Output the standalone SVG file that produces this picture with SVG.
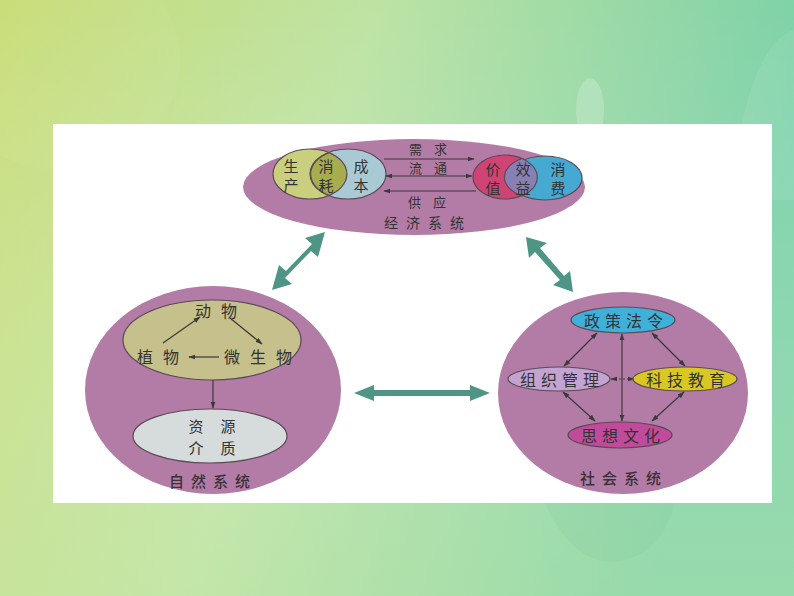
<svg xmlns="http://www.w3.org/2000/svg" width="794" height="596" viewBox="0 0 794 596">
<defs>
<linearGradient id="bg" x1="0" y1="0" x2="1" y2="0.25">
<stop offset="0" stop-color="#c8dc74"/>
<stop offset="0.45" stop-color="#bde3a4"/>
<stop offset="1" stop-color="#78d0a8"/>
</linearGradient>
<linearGradient id="bgb" x1="0" y1="0" x2="0" y2="1">
<stop offset="0" stop-color="#ffffff" stop-opacity="0"/>
<stop offset="1" stop-color="#d0ecb0" stop-opacity="0.35"/>
</linearGradient>
<marker id="ah" viewBox="0 0 10 10" refX="9" refY="5" markerWidth="6" markerHeight="6" orient="auto-start-reverse">
<path d="M0,1.5 L10,5 L0,8.5 Z" fill="#3a3a3a"/>
</marker>
<style>
.sys{fill:#b37ca6;}
.t{font-family:"Noto Sans CJK SC","Noto Sans",sans-serif;font-size:15px;fill:#333;text-anchor:middle;dominant-baseline:central;}
.s{font-size:13px;letter-spacing:12px;}
.e{font-size:14px;letter-spacing:8px;}
.n{font-size:16px;letter-spacing:10px;}
.o{font-size:16px;letter-spacing:5px;}
.lbl{font-family:"Noto Sans CJK SC","Noto Sans",sans-serif;font-size:15px;letter-spacing:7px;fill:#3a3038;text-anchor:middle;dominant-baseline:central;font-weight:500;}
.ln{stroke:#3a3a3a;stroke-width:1.2;fill:none;}
.big{fill:#4f9586;}
.edge{stroke:#5a4a55;stroke-width:1.2;}
</style>
</defs>
<rect width="794" height="596" fill="url(#bg)"/>
<rect width="794" height="596" fill="url(#bgb)"/>
<ellipse cx="590" cy="110" rx="14" ry="32" fill="#ffffff" opacity="0.2"/>
<path d="M740,130 Q760,40 794,30 L794,200 L740,200 Z" fill="#ffffff" opacity="0.08"/>
<path d="M545,503 Q570,560 610,562 Q660,560 675,503 Z" fill="#6cbf8c" opacity="0.1"/>
<ellipse cx="60" cy="60" rx="120" ry="110" fill="#ffffff" opacity="0.04"/>
<rect x="53" y="124" width="719" height="379" fill="#ffffff"/>

<g id="connectors">
<polygon class="big" points="325,232 305,238 312,244 286,271 279,265 272,290 292,284 285,278 311,251 318,257"/>
<polygon class="big" points="526,237 529,258 535,252 560,280 553,285 573,292 570,271 564,276 540,248 547,243"/>
<polygon class="big" points="354,393 374,385 374,390 470,390 470,385 490,393 470,401 470,396 374,396 374,401"/>
</g>

<g id="economic-system">
<ellipse class="sys" cx="414" cy="187" rx="171" ry="48"/>
<ellipse cx="310" cy="174" rx="37" ry="25" fill="#c9cf7c" class="edge"/>
<ellipse cx="348" cy="174" rx="38" ry="25" fill="#a9c9d4" class="edge"/>
<path d="M329,152.6 A37,25 0 0 1 329,195.4 A38,25 0 0 1 329,152.6 Z" fill="#a7ad4e" class="edge"/>
<ellipse cx="505" cy="177" rx="32" ry="22" fill="#cf4474" class="edge"/>
<ellipse cx="545" cy="178" rx="37" ry="22" fill="#45a9d1" class="edge"/>
<path d="M522,158.5 A32,22 0 0 1 522,196 A37,22 0 0 1 522,158.5 Z" fill="#8780b4" class="edge"/>
<text class="t" x="291" y="165">生</text><text class="t" x="291" y="184">产</text>
<text class="t" x="326" y="165">消</text><text class="t" x="326" y="184">耗</text>
<text class="t" x="361" y="165">成</text><text class="t" x="361" y="184">本</text>
<text class="t" x="493" y="168">价</text><text class="t" x="493" y="187">值</text>
<text class="t" x="523" y="168">效</text><text class="t" x="523" y="187">益</text>
<text class="t" x="558" y="168">消</text><text class="t" x="558" y="187">费</text>
<line class="ln" x1="384" y1="159" x2="474" y2="159" marker-end="url(#ah)"/>
<line class="ln" x1="386" y1="176" x2="472" y2="176" marker-start="url(#ah)" marker-end="url(#ah)"/>
<line class="ln" x1="384" y1="191" x2="476" y2="191" marker-start="url(#ah)"/>
<text class="t s" x="434" y="148">需求</text>
<text class="t s" x="434" y="167">流通</text>
<text class="t s" x="433" y="201">供应</text>
<text class="t e" x="428" y="222">经济系统</text>
</g>

<g id="natural-system">
<ellipse class="sys" cx="213" cy="390" rx="128" ry="104"/>
<ellipse cx="212" cy="340" rx="89" ry="40" fill="#c6c08c" class="edge"/>
<text class="t n" x="221" y="310">动物</text>
<text class="t n" x="163" y="356">植物</text>
<text class="t n" x="263" y="356">微生物</text>
<line class="ln" x1="163" y1="343" x2="200" y2="317" marker-end="url(#ah)"/>
<line class="ln" x1="230" y1="318" x2="262" y2="344" marker-end="url(#ah)"/>
<line class="ln" x1="219" y1="357" x2="189" y2="357" marker-end="url(#ah)"/>
<line class="ln" x1="213" y1="380" x2="213" y2="408" marker-end="url(#ah)"/>
<ellipse cx="210" cy="436" rx="77" ry="27" fill="#d6dbdb" class="edge"/>
<text class="t" x="196" y="425" font-size="16">资</text><text class="t" x="228" y="425" font-size="16">源</text>
<text class="t" x="196" y="447" font-size="16">介</text><text class="t" x="228" y="447" font-size="16">质</text>
<text class="lbl" x="213" y="480">自然系统</text>
</g>

<g id="social-system">
<ellipse class="sys" cx="623" cy="393" rx="125" ry="101"/>
<line class="ln" x1="597" y1="333" x2="564" y2="366" marker-start="url(#ah)" marker-end="url(#ah)"/>
<line class="ln" x1="652" y1="333" x2="685" y2="366" marker-start="url(#ah)" marker-end="url(#ah)"/>
<line class="ln" x1="622" y1="334" x2="622" y2="421" marker-start="url(#ah)" marker-end="url(#ah)"/>
<line class="ln" x1="563" y1="392" x2="595" y2="421" marker-start="url(#ah)" marker-end="url(#ah)"/>
<line class="ln" x1="684" y1="392" x2="652" y2="421" marker-start="url(#ah)" marker-end="url(#ah)"/>
<line class="ln" x1="611" y1="379" x2="634" y2="379" stroke-dasharray="2,2" marker-start="url(#ah)" marker-end="url(#ah)"/>
<ellipse cx="623" cy="320" rx="52" ry="13" fill="#3fb1d9" class="edge"/>
<ellipse cx="559" cy="379" rx="51" ry="12" fill="#c3a3d2" class="edge"/>
<ellipse cx="685" cy="379" rx="52" ry="12" fill="#d9c823" class="edge"/>
<ellipse cx="620" cy="435" rx="52" ry="13" fill="#c24a9a" class="edge"/>
<text class="t o" x="626" y="320">政策法令</text>
<text class="t o" x="562" y="379">组织管理</text>
<text class="t o" x="688" y="379">科技教育</text>
<text class="t o" x="623" y="435">思想文化</text>
<text class="lbl" x="624" y="477">社会系统</text>
</g>
</svg>
